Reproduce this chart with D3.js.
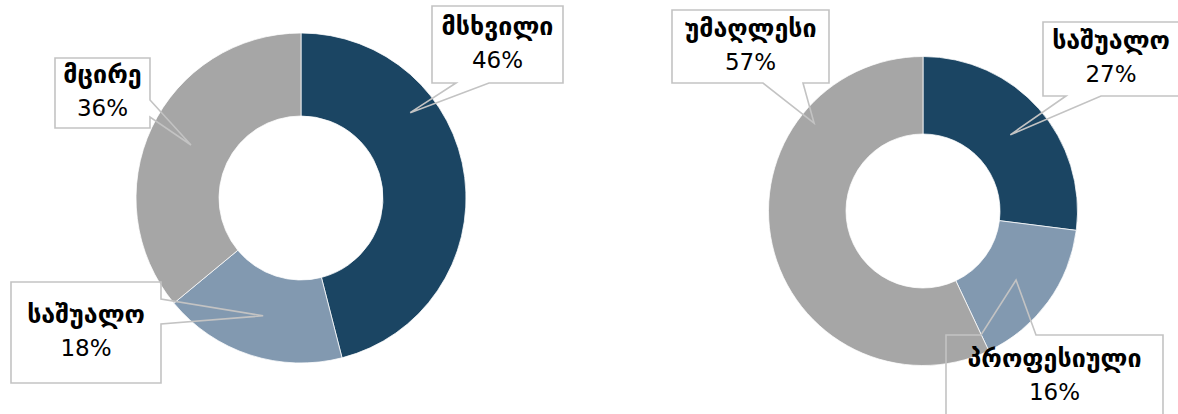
<!DOCTYPE html>
<html>
<head>
<meta charset="utf-8">
<script src="https://cdn.jsdelivr.net/npm/d3@7"></script>
<style>
  html, body { margin: 0; padding: 0; background: #ffffff; }
  svg { display: block; }
</style>
</head>
<body>
<svg id="chart" width="1178" height="414"></svg>
<script>
// ---- data ----
const leftCategories = ["მსხვილი", "საშუალო", "მცირე"];
const leftValues = [46, 18, 36];
const rightCategories = ["საშუალო", "პროფესიული", "უმაღლესი"];
const rightValues = [27, 16, 57];
const sliceColors = ["#1b4563", "#8299b0", "#a6a6a6"];

// ---- layout ----
const svg = d3.select("#chart");
const FONT = "'DejaVu Sans', sans-serif";

const charts = [
  {
    cats: leftCategories, vals: leftValues,
    cx: 301, cy: 198, outer: 165, inner: 82,
    callouts: [
      { box: [432, 6, 563, 83], side: "bottom", w: [456, 489], frac: 0.314, rf: 0.84 },
      { box: [11, 282, 161, 383], side: "right", w: [299, 324], frac: 0.497, rf: 0.75 },
      { box: [55, 58, 150, 128], side: "right", w: [100, 117], frac: 0.504, rf: 0.74 }
    ]
  },
  {
    cats: rightCategories, vals: rightValues,
    cx: 923, cy: 211, outer: 154.5, inner: 77,
    callouts: [
      { box: [1043, 22, 1179, 96], side: "bottom", w: [1066, 1101], frac: 0.503, rf: 0.75 },
      { box: [946, 335, 1163, 419], side: "top", w: [981, 1036], frac: 0.51, rf: 0.75 },
      { box: [672, 10, 829, 83], side: "bottom", w: [763, 803], frac: 0.751, rf: 0.906 }
    ]
  }
];

function calloutPath(b, side, w, tip) {
  const [x0, y0, x1, y1] = b;
  const p = d3.path();
  p.moveTo(x0, y0);
  if (side === "top") { p.lineTo(w[0], y0); p.lineTo(tip[0], tip[1]); p.lineTo(w[1], y0); }
  p.lineTo(x1, y0);
  if (side === "right") { p.lineTo(x1, w[0]); p.lineTo(tip[0], tip[1]); p.lineTo(x1, w[1]); }
  p.lineTo(x1, y1);
  if (side === "bottom") { p.lineTo(w[1], y1); p.lineTo(tip[0], tip[1]); p.lineTo(w[0], y1); }
  p.lineTo(x0, y1);
  if (side === "left") { p.lineTo(x0, w[1]); p.lineTo(tip[0], tip[1]); p.lineTo(x0, w[0]); }
  p.closePath();
  return p.toString();
}

charts.forEach(ch => {
  const data = ch.cats.map((c, i) => ({ cat: c, value: ch.vals[i], idx: i }));
  const pie = d3.pie().sort(null).value(d => d.value).startAngle(0).endAngle(2 * Math.PI);
  const arcs = pie(data);
  const color = d3.scaleOrdinal().domain(d3.range(data.length)).range(sliceColors);
  const arc = d3.arc().innerRadius(ch.inner).outerRadius(ch.outer);

  const g = svg.append("g").attr("transform", `translate(${ch.cx},${ch.cy})`);
  g.selectAll("path.slice")
    .data(arcs)
    .join("path")
    .attr("class", "slice")
    .attr("d", arc)
    .attr("fill", d => color(d.data.idx))
    .attr("stroke", "#ffffff")
    .attr("stroke-width", 0.75);

  const total = d3.sum(ch.vals);
  const lg = svg.append("g");
  arcs.forEach((a, i) => {
    const co = ch.callouts[i];
    const ang = a.startAngle + co.frac * (a.endAngle - a.startAngle);
    const r = co.rf * ch.outer;
    const tip = [ch.cx + r * Math.sin(ang), ch.cy - r * Math.cos(ang)];
    lg.append("path")
      .attr("d", calloutPath(co.box, co.side, co.w, tip))
      .attr("fill", "none")
      .attr("stroke", "#c3c3c3")
      .attr("stroke-width", 1.6)
      .attr("stroke-linejoin", "miter");
    const bx = (co.box[0] + co.box[2]) / 2;
    const by = (co.box[1] + co.box[3]) / 2;
    lg.append("text")
      .attr("x", bx).attr("y", by - 10)
      .attr("text-anchor", "middle")
      .attr("font-family", FONT)
      .attr("font-size", 25)
      .attr("font-weight", "bold")
      .attr("fill", "#000000")
      .text(a.data.cat);
    lg.append("text")
      .attr("x", bx).attr("y", by + 23)
      .attr("text-anchor", "middle")
      .attr("font-family", FONT)
      .attr("font-size", 23)
      .attr("fill", "#000000")
      .text(Math.round(a.data.value / total * 100) + "%");
  });
});
</script>
</body>
</html>
